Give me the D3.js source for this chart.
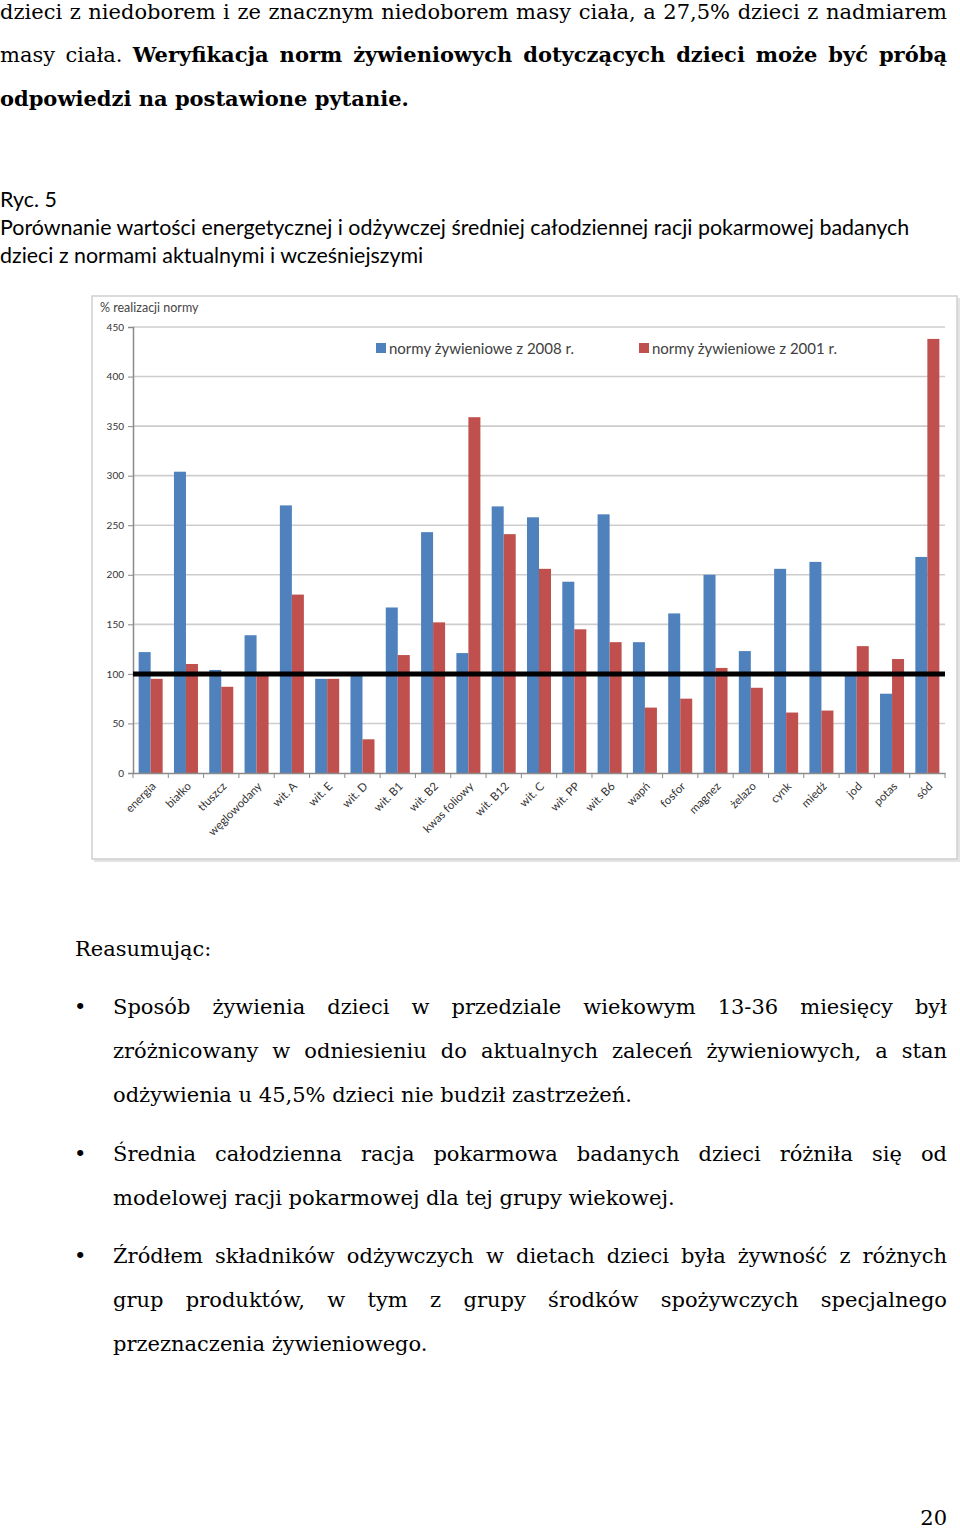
<!DOCTYPE html>
<html>
<head>
<meta charset="utf-8">
<script src="https://cdn.jsdelivr.net/npm/d3@7"></script>
<style>
  body { margin: 0; background: #fff; }
  #page { position: relative; width: 960px; height: 1530px; overflow: hidden; }
  .line { position: absolute; white-space: nowrap; color: #000; }
  .serif { font-family: "DejaVu Serif", serif; font-size: 21px; }
  .just { text-align: justify; text-align-last: justify; }
  .cap { font-family: Lato, "Open Sans", sans-serif; font-size: 21.4px; }
  #chart { position: absolute; left: 0; top: 0; }
</style>
</head>
<body>
<div id="page"><svg id="chart" width="960" height="900"></svg></div>
<script>
// chart data
const categories = ["energia", "białko", "tłuszcz", "węglowodany", "wit. A", "wit. E", "wit. D",
  "wit. B1", "wit. B2", "kwas foliowy", "wit. B12", "wit. C", "wit. PP", "wit. B6", "wapń",
  "fosfor", "magnez", "żelazo", "cynk", "miedź", "jod", "potas", "sód"];
const series = ["normy żywieniowe z 2008 r.", "normy żywieniowe z 2001 r."];
const norm2008 = [122, 304, 104, 139, 270, 95, 100, 167, 243, 121, 269, 258, 193, 261, 132, 161, 200, 123, 206, 213, 100, 80, 218];
const norm2001 = [95, 110, 87, 100, 180, 95, 34, 119, 152, 359, 241, 206, 145, 132, 66, 75, 106, 86, 61, 63, 128, 115, 438];
const yTicks = [0, 50, 100, 150, 200, 250, 300, 350, 400, 450];
const normLine = 100;
const colors = ["#4f81bd", "#c0504d"];

// page text
const topLines = [
  { t: "dzieci z niedoborem i ze znacznym niedoborem masy ciała, a 27,5% dzieci z nadmiarem", y: 12, j: true },
  { h: 'masy ciała. <b>Weryfikacja norm żywieniowych dotyczących dzieci może być próbą</b>', y: 55, j: true },
  { h: '<b>odpowiedzi na postawione pytanie.</b>', y: 99, j: false }
];
const captionLines = [
  { t: "Ryc. 5", y: 199 },
  { t: "Porównanie wartości energetycznej i odżywczej średniej całodziennej racji pokarmowej badanych", y: 227 },
  { t: "dzieci z normami aktualnymi i wcześniejszymi", y: 255 }
];
const bulletParas = [
  { y: 1007, lines: ["Sposób żywienia dzieci w przedziale wiekowym 13-36 miesięcy był",
    "zróżnicowany w odniesieniu do aktualnych zaleceń żywieniowych, a stan",
    "odżywienia u 45,5% dzieci nie budził zastrzeżeń."] },
  { y: 1154, lines: ["Średnia całodzienna racja pokarmowa badanych dzieci różniła się od",
    "modelowej racji pokarmowej dla tej grupy wiekowej."] },
  { y: 1256, lines: ["Źródłem składników odżywczych w dietach dzieci była żywność z różnych",
    "grup produktów, w tym z grupy środków spożywczych specjalnego",
    "przeznaczenia żywieniowego."] }
];

const page = d3.select("#page");

function addLine(x, w, cy, cls, d, lh = 30) {
  const div = page.append("div").attr("class", "line " + cls)
    .style("left", x + "px").style("top", (cy - lh / 2) + "px")
    .style("line-height", lh + "px");
  if (w) div.style("width", w + "px");
  if (d.h) div.html(d.h); else div.text(d.t);
  return div;
}

topLines.forEach(d => addLine(0, d.j ? 947 : null, d.y, "serif" + (d.j ? " just" : ""), d));
captionLines.forEach(d => addLine(0, null, d.y, "cap", d));

addLine(75, null, 949, "serif", { t: "Reasumując:" });
bulletParas.forEach(p => {
  addLine(74, null, p.y, "serif", { t: "•" });
  p.lines.forEach((l, i) => {
    const last = i === p.lines.length - 1;
    addLine(113, last ? null : 834, p.y + i * 44, "serif" + (last ? "" : " just"), { t: l });
  });
});
addLine(900, 47, 1518, "serif", { t: "20" }, 22).style("text-align", "right");

// chart
const svg = d3.select("#chart");
const plotL = 133, plotR = 945, plotT = 327, plotB = 773;

svg.append("rect").attr("x", 94).attr("y", 298).attr("width", 866).attr("height", 564)
  .attr("fill", "#e4e4e4");
svg.append("rect").attr("x", 92).attr("y", 296).attr("width", 865).attr("height", 563)
  .attr("fill", "#fff").attr("stroke", "#cfcfcf").attr("stroke-width", 1.5);

const x = d3.scaleBand().domain(categories).range([plotL, plotR]);
const xs = d3.scaleBand().domain([0, 1]).range([0, x.bandwidth()]).paddingOuter(0.47);
const y = d3.scaleLinear().domain([0, 450]).range([plotB, plotT]);

// grid
svg.append("g").selectAll("line").data(yTicks.filter(v => v > 0)).join("line")
  .attr("x1", plotL).attr("x2", plotR).attr("y1", d => y(d)).attr("y2", d => y(d))
  .attr("stroke", "#cdcdcd").attr("stroke-width", 1.6);

// y axis
const yAxis = svg.append("g").attr("transform", `translate(${plotL},0)`)
  .call(d3.axisLeft(y).tickValues(yTicks).tickSize(5).tickPadding(4));
yAxis.select(".domain").attr("stroke", "#8a8a8a").attr("stroke-width", 1.5);
yAxis.selectAll(".tick line").attr("stroke", "#8a8a8a");
yAxis.selectAll("text").attr("font-family", "Lato, sans-serif").attr("font-size", 10).attr("fill", "#333");

svg.append("text").attr("x", 100).attr("y", 312).text("% realizacji normy")
  .attr("font-family", "Lato, sans-serif").attr("font-size", 12.5).attr("fill", "#444");

// bars
const values = [norm2008, norm2001];
values.forEach((vals, s) => {
  svg.append("g").selectAll("rect").data(categories).join("rect")
    .attr("x", (d, i) => x(d) + xs(s))
    .attr("width", xs.bandwidth())
    .attr("y", (d, i) => y(vals[i]))
    .attr("height", (d, i) => y(0) - y(vals[i]))
    .attr("fill", colors[s]);
});

// x axis
const xAxis = svg.append("g").attr("transform", `translate(0,${plotB})`)
  .call(d3.axisBottom(x).tickSize(0).tickFormat(""));
xAxis.select(".domain").attr("stroke", "#8a8a8a").attr("stroke-width", 1.5);
svg.append("g").selectAll("line").data(categories.concat([null])).join("line")
  .attr("x1", (d, i) => plotL + i * x.step()).attr("x2", (d, i) => plotL + i * x.step())
  .attr("y1", plotB).attr("y2", plotB + 5).attr("stroke", "#8a8a8a");

svg.append("g").selectAll("text").data(categories).join("text")
  .attr("transform", d => `translate(${x(d) + x.bandwidth() / 2 + 6},${plotB + 14}) rotate(-45)`)
  .attr("text-anchor", "end")
  .attr("font-family", "Lato, sans-serif").attr("font-size", 11.5).attr("fill", "#333")
  .text(d => d);

// 100% norm line
svg.append("line").attr("x1", plotL).attr("x2", plotR)
  .attr("y1", y(normLine)).attr("y2", y(normLine))
  .attr("stroke", "#000").attr("stroke-width", 5);

// legend
const legendX = [376, 639];
series.forEach((s, i) => {
  svg.append("rect").attr("x", legendX[i]).attr("y", 343).attr("width", 10).attr("height", 10)
    .attr("fill", colors[i]);
  svg.append("text").attr("x", legendX[i] + 13).attr("y", 354).text(s)
    .attr("font-family", "Lato, sans-serif").attr("font-size", 15).attr("fill", "#404040");
});
</script>
</body>
</html>
